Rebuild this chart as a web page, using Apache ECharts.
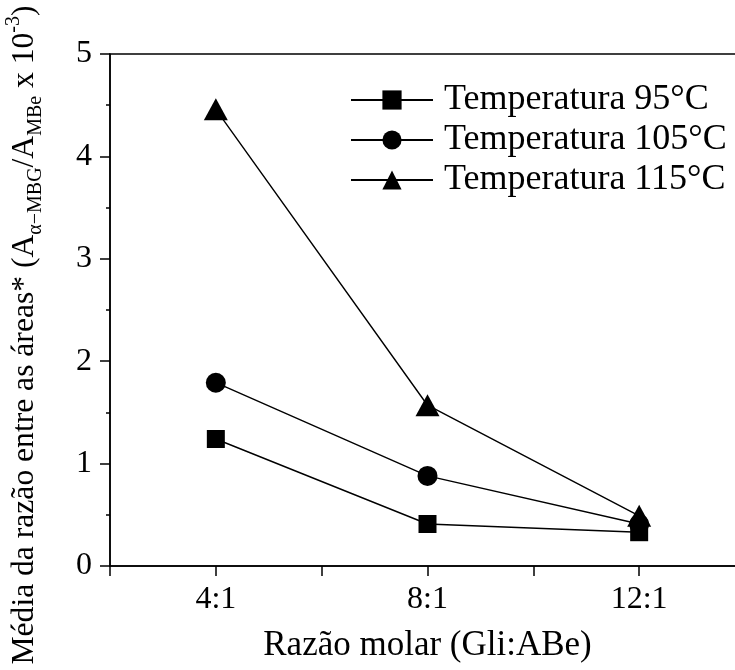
<!DOCTYPE html>
<html>
<head>
<meta charset="utf-8">
<script src="https://cdn.jsdelivr.net/npm/echarts@6/dist/echarts.min.js"></script>
<style>
  html, body { margin: 0; padding: 0; background: #fff; }
  #chart { width: 735px; height: 670px; }
</style>
</head>
<body>
<div id="chart"></div>
<script>
// Molar ratio glycerol : benzoic acid
const categories = ['4:1', '8:1', '12:1'];
const ratioValues = [4, 8, 12];

// Mean area ratio (x 10^-3) per reaction temperature
const seriesNames = ['Temperatura 95°C', 'Temperatura 105°C', 'Temperatura 115°C'];
const temp95 = [1.24, 0.41, 0.33];
const temp105 = [1.79, 0.88, 0.41];
const temp115 = [4.46, 1.57, 0.49];

const yTicks = [0, 1, 2, 3, 4, 5];

const FONT = 'Liberation Serif';

function pairs(vals) {
  return ratioValues.map((r, i) => [r, vals[i]]);
}

function makeSeries(name, vals, symbol, size) {
  return {
    name: name,
    type: 'line',
    data: pairs(vals),
    symbol: symbol,
    symbolSize: size,
    showAllSymbol: true,
    lineStyle: { color: '#000', width: 1.4 },
    itemStyle: { color: '#000' },
    emphasis: { disabled: true },
    animation: false
  };
}

const chart = echarts.init(document.getElementById('chart'), null, { renderer: 'canvas' });

chart.setOption({
  backgroundColor: '#fff',
  animation: false,
  textStyle: { fontFamily: FONT, color: '#000' },
  grid: {
    left: 110,
    top: 54,
    right: -10,
    bottom: 104,
    containLabel: false,
    outerBoundsMode: 'none',
    show: true,
    borderColor: '#000',
    borderWidth: 1.5,
    backgroundColor: 'transparent'
  },
  legend: {
    orient: 'vertical',
    left: 345,
    top: 77,
    itemWidth: 82,
    itemHeight: 24,
    itemGap: 4,
    selectedMode: false,
    textStyle: {
      fontFamily: FONT,
      fontSize: 36,
      color: '#000',
      lineHeight: 36,
      padding: [0, 0, 0, 6]
    },
    data: seriesNames
  },
  xAxis: {
    type: 'value',
    min: 2,
    max: 14,
    interval: 2,
    name: 'Razão molar (Gli:ABe)',
    nameLocation: 'middle',
    nameGap: 62,
    nameTextStyle: { fontFamily: FONT, fontSize: 35, color: '#000' },
    axisLine: { show: true, onZero: false, lineStyle: { color: '#000', width: 1.5 } },
    axisTick: { show: true, inside: false, length: 10, lineStyle: { color: '#000', width: 1.5 } },
    axisLabel: {
      fontFamily: FONT,
      fontSize: 32,
      color: '#000',
      margin: 18,
      formatter: function (v) {
        const i = ratioValues.indexOf(v);
        return i >= 0 ? categories[i] : '';
      }
    },
    splitLine: { show: false }
  },
  yAxis: {
    type: 'value',
    min: yTicks[0],
    max: yTicks[yTicks.length - 1],
    interval: 1,
    name: '{n|Média da razão entre as áreas* (A}{sub|α−MBG}{n|/A}{sub|MBe}{n| x 10}{sup|-3}{n|)}',
    nameLocation: 'middle',
    nameGap: 64,
    nameTextStyle: {
      padding: [0, 50, 0, 0],
      rich: {
        n: { fontFamily: FONT, fontSize: 31.6, color: '#000', lineHeight: 42, verticalAlign: 'middle' },
        sub: { fontFamily: FONT, fontSize: 20, color: '#000', lineHeight: 17, verticalAlign: 'bottom' },
        sup: { fontFamily: FONT, fontSize: 20, color: '#000', lineHeight: 17, verticalAlign: 'top' }
      }
    },
    axisLine: { show: true, onZero: false, lineStyle: { color: '#000', width: 1.5 } },
    axisTick: { show: true, inside: false, length: 10, lineStyle: { color: '#000', width: 1.5 } },
    minorTick: { show: true, splitNumber: 2, length: 4, lineStyle: { color: '#000', width: 1.5 } },
    axisLabel: {
      fontFamily: FONT,
      fontSize: 32,
      color: '#000',
      margin: 18,
      formatter: function (v) { return yTicks.indexOf(v) >= 0 ? String(v) : ''; }
    },
    splitLine: { show: false }
  },
  series: [
    makeSeries(seriesNames[0], temp95, 'rect', 18),
    makeSeries(seriesNames[1], temp105, 'circle', 20),
    makeSeries(seriesNames[2], temp115, 'triangle', [24, 22])
  ]
});
</script>
</body>
</html>
